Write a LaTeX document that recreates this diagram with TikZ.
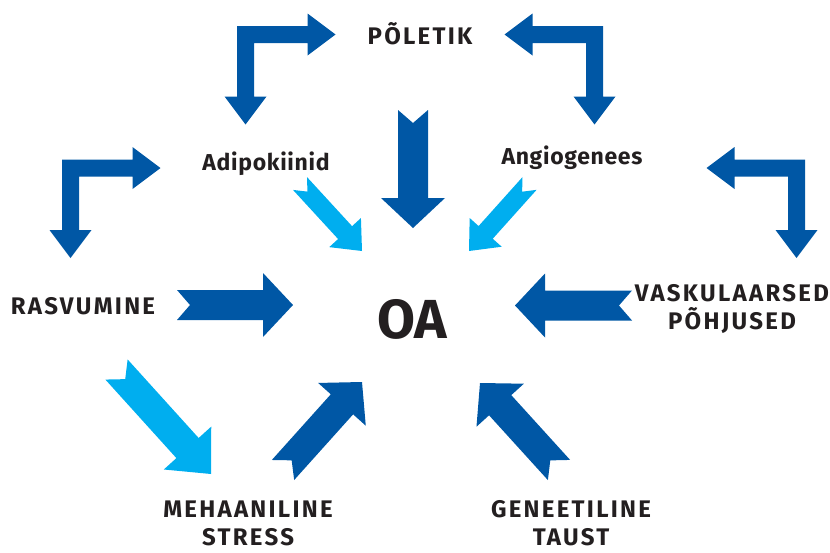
\documentclass[tikz,border=0pt]{standalone}
\usepackage{fontspec}
\setmainfont{Fira Sans}
\newfontfamily\spaced{Fira Sans}[LetterSpace=9.5]
\newfontfamily\lightspaced{Fira Sans}[LetterSpace=3]
\usetikzlibrary{calc}

\definecolor{oadark}{HTML}{0057A5}
\definecolor{oalight}{HTML}{00AEEF}
\definecolor{ink}{HTML}{231F20}

% block arrow with notched tail, from tail (#2) to tip (#3)
\newcommand\fatarrow[3][]{%
  \fill[#1] ($(#2)!\abody!90:(#3)$)
    -- ($(#3)!\alen!(#2)!\abody!90:(#3)$)
    -- ($(#3)!\alen!(#2)!\ahead!90:(#3)$)
    -- (#3)
    -- ($(#3)!\alen!(#2)!\ahead!-90:(#3)$)
    -- ($(#3)!\alen!(#2)!\abody!-90:(#3)$)
    -- ($(#2)!\abody!-90:(#3)$)
    -- ($(#2)!\anotch!(#3)$) -- cycle;}

\begin{document}
\begin{tikzpicture}[x=1pt, y=-1pt,
    lbl/.style={text=ink, inner sep=0pt, anchor=base, font=\lightspaced\bfseries\fontsize{23}{26}\selectfont},
    upper/.style={text=ink, inner sep=0pt, text depth=0pt, align=center, font=\spaced\bfseries\fontsize{24}{28}\selectfont},
    arrow body/.store in=\abody, arrow head/.store in=\ahead,
    arrow len/.store in=\alen, arrow notch/.store in=\anotch,
    bigarrow/.style={arrow body=15pt, arrow head=32pt, arrow len=30pt, arrow notch=13pt},
    smallarrow/.style={arrow body=9.5pt, arrow head=21.5pt, arrow len=25pt, arrow notch=11pt},
    elbow/.pic={\fill[oadark] (-8.5,-8.5) -- (62,-8.5) -- (62,-21) -- (90,0) -- (62,21) -- (62,8.5)
      -- (8.5,8.5) -- (8.5,62) -- (21,62) -- (0,90) -- (-21,62) -- (-8.5,62) -- cycle;}
    ]
  \useasboundingbox (0,0) rectangle (830,552);

  % texts
  \node[upper, anchor=base] (pol) at (420,44) {PÕLETIK};
  \node[lbl] (adi) at (266,170) {Adipokiinid};
  \node[lbl] (ang) at (572,164) {Angiogenees};
  \node[upper, anchor=base] (ras) at (83,314) {RASVUMINE};
  \node[upper, anchor=south] (vas) at (732,330) {VASKULAARSED\\PÕHJUSED};
  \node[upper, anchor=south] (meh) at (248,546) {MEHAANILINE\\STRESS};
  \node[upper, anchor=south] (gen) at (571,546) {GENEETILINE\\TAUST};
  \node[text=ink, inner sep=0pt, anchor=base, font=\bfseries\fontsize{55}{60}\selectfont] (oa) at (412,338) {OA};

  % ends of the straight arrows
  \foreach \n/\a/\b in {r/{177,305}/{293,305}, v/{632,305.5}/{515,305.5}, p/{413,110}/{413,228},
      m/{283,470}/{362,382}, g/{559,470}/{480,383}, rm/{116.5,369.5}/{211,474},
      ad/{300,183.5}/{362,251}, an/{529.5,183.5}/{469,251}}
    {\coordinate (\n-t) at (\a); \coordinate (\n-h) at (\b);}

  \fatarrow[oadark, bigarrow]{r-t}{r-h}
  \fatarrow[oadark, bigarrow]{v-t}{v-h}
  \fatarrow[oadark, bigarrow]{p-t}{p-h}
  \fatarrow[oadark, bigarrow]{m-t}{m-h}
  \fatarrow[oadark, bigarrow]{g-t}{g-h}
  \fatarrow[oalight, bigarrow, arrow len=35pt]{rm-t}{rm-h}
  \fatarrow[oalight, smallarrow]{ad-t}{ad-h}
  \fatarrow[oalight, smallarrow]{an-t}{an-h}

  % two-headed corner arrows
  \pic at (245.5,34.5) {elbow};
  \pic at (70.5,168) {elbow};
  \pic[xscale=-1] at (594.5,34.5) {elbow};
  \pic[xscale=-1] at (796.5,168) {elbow};
\end{tikzpicture}
\end{document}
